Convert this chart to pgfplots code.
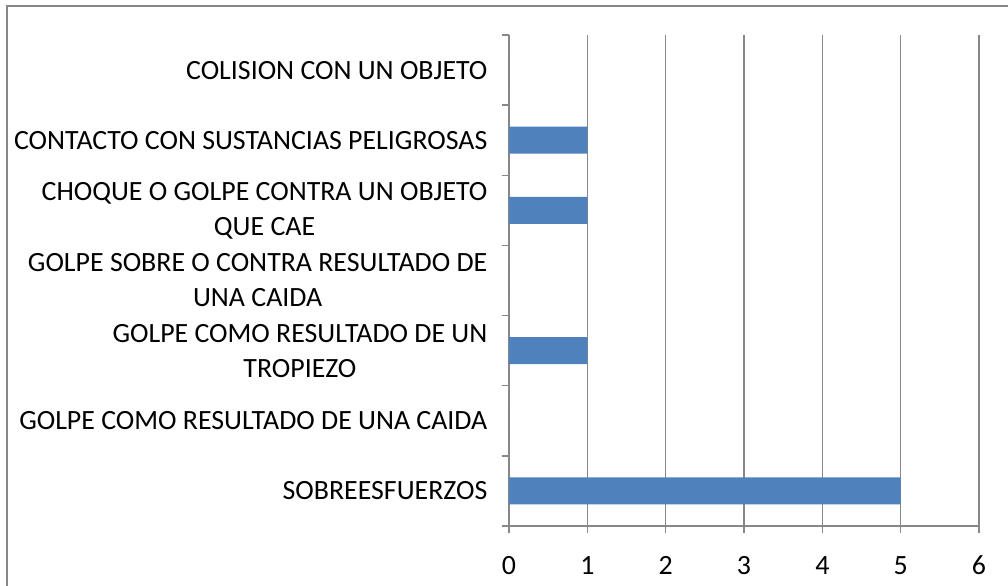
\documentclass[border=0pt]{standalone}
\usepackage{pgfplots}
\pgfplotsset{compat=1.18}
\usepackage{fontspec}
\setmainfont{Carlito}
\definecolor{gridgray}{HTML}{878787}
\definecolor{barblue}{HTML}{4F81BD}
\begin{document}
\begin{tikzpicture}
\useasboundingbox (0,0) rectangle (756pt,439.5pt);
\draw[color=gridgray, line width=1.1pt] (5.25pt,0pt) -- (5.25pt,435pt) -- (756pt,435pt);
\begin{axis}[
  at={(381.75pt,45pt)}, anchor=south west,
  scale only axis, width=352.5pt, height=368.25pt,
  xbar, bar width=20.25pt,
  xmin=0, xmax=6, ymin=-0.5, ymax=6.5,
  axis lines*=left,
  axis line style={color=gridgray, line width=1.1pt},
  xmajorgrids, grid style={color=gridgray, line width=1.1pt},
  xtick={0,...,6}, minor xtick={0,...,6},
  ytick={0,...,6}, minor ytick={-0.5,0.5,...,6.5},
  major tick length=0pt, minor tick length=5.5pt,
  tick align=outside,
  every tick/.style={color=gridgray, line width=1.1pt},
  font=\fontsize{20.9pt}{26.2pt}\selectfont,
  /pgf/number format/assume math mode=true,
  xticklabel style={anchor=center, yshift=-29.5pt},
  yticklabel style={anchor=east, inner sep=0pt, xshift=-16pt, align=center, font=\fontsize{20.9pt}{26.2pt}\selectfont},
  yticklabels={
    {SOBREESFUERZOS},
    {GOLPE COMO RESULTADO DE UNA CAIDA},
    {GOLPE COMO RESULTADO DE UN\\TROPIEZO},
    {GOLPE SOBRE O CONTRA RESULTADO DE\\UNA CAIDA},
    {CHOQUE O GOLPE CONTRA UN OBJETO\\QUE CAE},
    {CONTACTO CON SUSTANCIAS PELIGROSAS},
    {COLISION CON UN OBJETO}},
]
\addplot[draw=none, fill=barblue] coordinates {
  (5,0) (0,1) (1,2) (0,3) (1,4) (1,5) (0,6)
};
\end{axis}
\end{tikzpicture}
\end{document}
